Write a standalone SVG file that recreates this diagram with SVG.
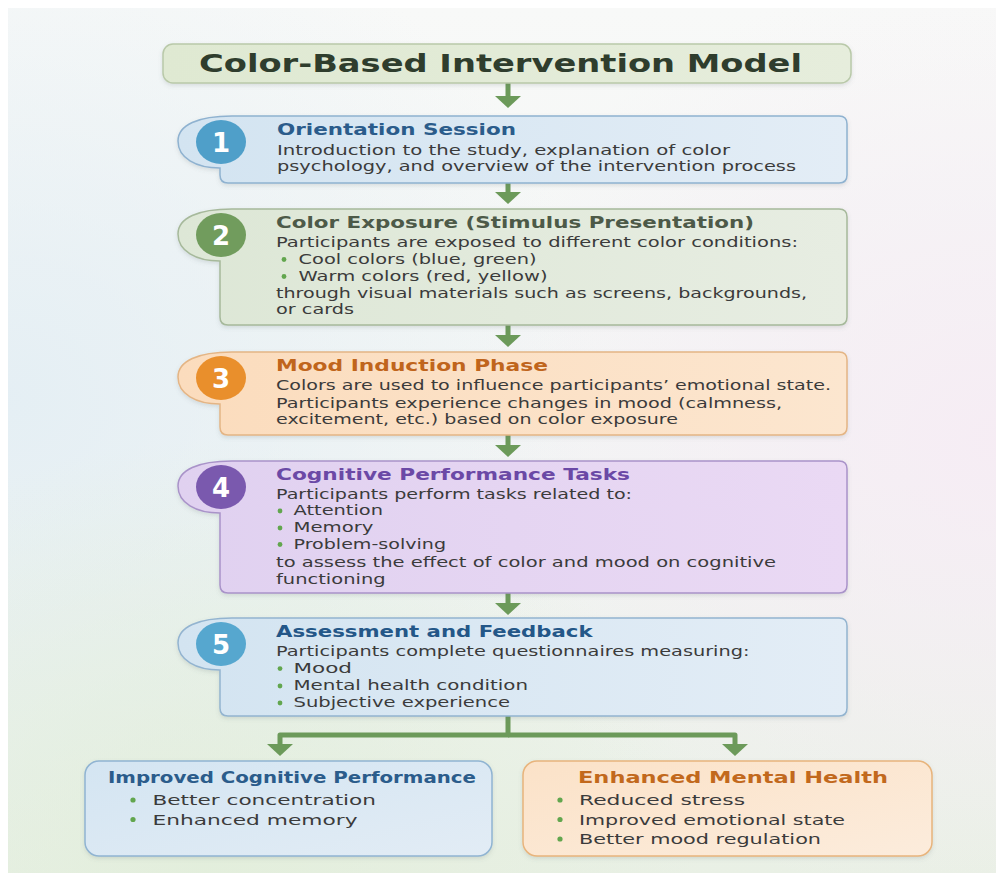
<svg xmlns="http://www.w3.org/2000/svg" width="996" height="873" viewBox="0 0 996 873">
  <defs>
    <linearGradient id="bgBase" x1="0" y1="0" x2="0" y2="1">
      <stop offset="0" stop-color="#f8f9f8"/>
      <stop offset="0.55" stop-color="#f2f5f4"/>
      <stop offset="1" stop-color="#e9f0e5"/>
    </linearGradient>
    <radialGradient id="bgLeft" cx="0" cy="0.45" r="0.6">
      <stop offset="0" stop-color="#e3eef4" stop-opacity="0.9"/>
      <stop offset="1" stop-color="#e3eef4" stop-opacity="0"/>
    </radialGradient>
    <radialGradient id="bgRight" cx="1" cy="0.5" r="0.55">
      <stop offset="0" stop-color="#f6ecf4" stop-opacity="0.95"/>
      <stop offset="1" stop-color="#f6ecf4" stop-opacity="0"/>
    </radialGradient>
    <radialGradient id="bgBottom" cx="0.2" cy="1" r="0.5">
      <stop offset="0" stop-color="#e2eedb" stop-opacity="0.9"/>
      <stop offset="1" stop-color="#e2eedb" stop-opacity="0"/>
    </radialGradient>

    <linearGradient id="gTitle" x1="0" y1="0" x2="1" y2="0">
      <stop offset="0" stop-color="#dfe9d2"/>
      <stop offset="1" stop-color="#e6eddc"/>
    </linearGradient>
    <linearGradient id="gBlue" x1="0" y1="0" x2="1" y2="0">
      <stop offset="0" stop-color="#d3e4f1"/>
      <stop offset="1" stop-color="#e3edf6"/>
    </linearGradient>
    <linearGradient id="gGreen" x1="0" y1="0" x2="1" y2="0">
      <stop offset="0" stop-color="#dde7d6"/>
      <stop offset="1" stop-color="#e7ede2"/>
    </linearGradient>
    <linearGradient id="gOrange" x1="0" y1="0" x2="1" y2="0">
      <stop offset="0" stop-color="#fbdcbd"/>
      <stop offset="1" stop-color="#fce6cf"/>
    </linearGradient>
    <linearGradient id="gPurple" x1="0" y1="0" x2="1" y2="0">
      <stop offset="0" stop-color="#e0d1f0"/>
      <stop offset="1" stop-color="#ead9f4"/>
    </linearGradient>
    <linearGradient id="gBlue2" x1="0" y1="0" x2="1" y2="1">
      <stop offset="0" stop-color="#d4e5f2"/>
      <stop offset="1" stop-color="#e2ecf5"/>
    </linearGradient>
    <linearGradient id="gOrange2" x1="0" y1="0" x2="1" y2="1">
      <stop offset="0" stop-color="#fbe2c8"/>
      <stop offset="1" stop-color="#fcecdc"/>
    </linearGradient>

    <filter id="shadow" x="-5%" y="-10%" width="110%" height="130%">
      <feDropShadow dx="0" dy="2" stdDeviation="2" flood-color="#5a6a70" flood-opacity="0.18"/>
    </filter>

    <marker id="head" viewBox="0 -13 12 26" refX="1" refY="0" markerWidth="12" markerHeight="26" markerUnits="userSpaceOnUse" orient="auto">
      <path d="M0,-13 L12,0 L0,13 Z" fill="#6c9a5a"/>
    </marker>

    <style>
      .title { font-family: "DejaVu Sans", "Liberation Sans", sans-serif; font-weight: bold; }
      .body { font-family: "DejaVu Sans", "Liberation Sans", sans-serif; font-size: 13.5px; fill: #3b3b3b; }
      .big { font-family: "DejaVu Sans", "Liberation Sans", sans-serif; font-size: 14.5px; fill: #3b3b3b; }
      .head { font-size: 15px; }
      .num { font-family: "DejaVu Sans", "Liberation Sans", sans-serif; font-weight: bold; font-size: 26px; fill: #ffffff; text-anchor: middle; }
      .dot { fill: #62a64e; }
      .link { fill: none; stroke: #6c9a5a; stroke-width: 5; stroke-linejoin: round; marker-end: url(#head); }
    </style>
  </defs>

  <!-- page background -->
  <rect x="0" y="0" width="996" height="873" fill="#ffffff"/>
  <rect x="8" y="8" width="988" height="865" fill="url(#bgBase)"/>
  <rect x="8" y="8" width="988" height="865" fill="url(#bgLeft)"/>
  <rect x="8" y="8" width="988" height="865" fill="url(#bgRight)"/>
  <rect x="8" y="8" width="988" height="865" fill="url(#bgBottom)"/>

  <!-- connectors -->
  <g id="connectors">
    <path class="link" d="M508,83 V97"/>
    <path class="link" d="M508,183 V193"/>
    <path class="link" d="M508,325 V336"/>
    <path class="link" d="M508,435 V446"/>
    <path class="link" d="M508,593 V604"/>
    <path class="link" d="M508,716 V735 H280 V745"/>
    <path class="link" d="M508,735 H735 V745"/>
  </g>

  <!-- heading -->
  <g id="title">
    <rect x="163" y="44" width="688" height="39" rx="10" fill="url(#gTitle)" stroke="#b9c9a9" stroke-width="1.5" filter="url(#shadow)"/>
    <text class="title" x="199" y="72" font-size="25" fill="#2f3d2d" textLength="603" lengthAdjust="spacingAndGlyphs">Color-Based Intervention Model</text>
  </g>

  <!-- step 1 -->
  <g id="step1">
    <path d="M232,116 H839 Q847,116 847,124 V175 Q847,183 839,183 H228 Q220,183 220,175 V168 C196,168 178,158 178,141 C178,125 198,116 232,116 Z" fill="url(#gBlue)" stroke="#8fb2d0" stroke-width="1.5" filter="url(#shadow)"/>
    <ellipse cx="221" cy="142" rx="25" ry="22" fill="#4f9fc9"/>
    <text class="num" x="221" y="151.5">1</text>
    <text class="title head" x="277" y="134.5" fill="#2b5c8b" textLength="239" lengthAdjust="spacingAndGlyphs">Orientation Session</text>
    <text class="body" x="277" y="154.5" textLength="453" lengthAdjust="spacingAndGlyphs">Introduction to the study, explanation of color</text>
    <text class="body" x="277" y="171" textLength="519" lengthAdjust="spacingAndGlyphs">psychology, and overview of the intervention process</text>
  </g>

  <!-- step 2 -->
  <g id="step2">
    <path d="M232,209 H839 Q847,209 847,217 V317 Q847,325 839,325 H228 Q220,325 220,317 V261 C196,261 178,251 178,234 C178,218 198,209 232,209 Z" fill="url(#gGreen)" stroke="#a6b99b" stroke-width="1.5" filter="url(#shadow)"/>
    <ellipse cx="221" cy="235" rx="25" ry="22" fill="#719c5d"/>
    <text class="num" x="221" y="244.5">2</text>
    <text class="title head" x="276" y="227.5" fill="#4d5a48" textLength="478" lengthAdjust="spacingAndGlyphs">Color Exposure (Stimulus Presentation)</text>
    <text class="body" x="276" y="246.5" textLength="522" lengthAdjust="spacingAndGlyphs">Participants are exposed to different color conditions:</text>
    <circle class="dot" cx="284" cy="259.5" r="2.4"/>
    <text class="body" x="298.5" y="263.5" textLength="238" lengthAdjust="spacingAndGlyphs">Cool colors (blue, green)</text>
    <circle class="dot" cx="284" cy="276.5" r="2.4"/>
    <text class="body" x="298.5" y="280.5" textLength="249" lengthAdjust="spacingAndGlyphs">Warm colors (red, yellow)</text>
    <text class="body" x="276" y="298" textLength="531" lengthAdjust="spacingAndGlyphs">through visual materials such as screens, backgrounds,</text>
    <text class="body" x="276" y="314" textLength="78" lengthAdjust="spacingAndGlyphs">or cards</text>
  </g>

  <!-- step 3 -->
  <g id="step3">
    <path d="M232,352 H839 Q847,352 847,360 V427 Q847,435 839,435 H228 Q220,435 220,427 V404 C196,404 178,394 178,377 C178,361 198,352 232,352 Z" fill="url(#gOrange)" stroke="#e4b585" stroke-width="1.5" filter="url(#shadow)"/>
    <ellipse cx="221" cy="378" rx="25" ry="22" fill="#e98f2c"/>
    <text class="num" x="221" y="387.5">3</text>
    <text class="title head" x="276" y="370.5" fill="#c0651c" textLength="272" lengthAdjust="spacingAndGlyphs">Mood Induction Phase</text>
    <text class="body" x="276" y="390" textLength="555" lengthAdjust="spacingAndGlyphs">Colors are used to influence participants’ emotional state.</text>
    <text class="body" x="276" y="407.5" textLength="506" lengthAdjust="spacingAndGlyphs">Participants experience changes in mood (calmness,</text>
    <text class="body" x="276" y="424" textLength="402" lengthAdjust="spacingAndGlyphs">excitement, etc.) based on color exposure</text>
  </g>

  <!-- step 4 -->
  <g id="step4">
    <path d="M232,461 H839 Q847,461 847,469 V585 Q847,593 839,593 H228 Q220,593 220,585 V513 C196,513 178,503 178,486 C178,470 198,461 232,461 Z" fill="url(#gPurple)" stroke="#a993c9" stroke-width="1.5" filter="url(#shadow)"/>
    <ellipse cx="221" cy="487" rx="25" ry="22" fill="#7a59ae"/>
    <text class="num" x="221" y="496.5">4</text>
    <text class="title head" x="276" y="479.5" fill="#6b49a6" textLength="354" lengthAdjust="spacingAndGlyphs">Cognitive Performance Tasks</text>
    <text class="body" x="276" y="498.5" textLength="356" lengthAdjust="spacingAndGlyphs">Participants perform tasks related to:</text>
    <circle class="dot" cx="280" cy="511" r="2.4"/>
    <text class="body" x="293.5" y="515" textLength="89.5" lengthAdjust="spacingAndGlyphs">Attention</text>
    <circle class="dot" cx="280" cy="528" r="2.4"/>
    <text class="body" x="293.5" y="532" textLength="80" lengthAdjust="spacingAndGlyphs">Memory</text>
    <circle class="dot" cx="280" cy="544.5" r="2.4"/>
    <text class="body" x="293.5" y="548.5" textLength="152.5" lengthAdjust="spacingAndGlyphs">Problem-solving</text>
    <text class="body" x="276" y="567" textLength="500" lengthAdjust="spacingAndGlyphs">to assess the effect of color and mood on cognitive</text>
    <text class="body" x="276" y="583.5" textLength="109.6" lengthAdjust="spacingAndGlyphs">functioning</text>
  </g>

  <!-- step 5 -->
  <g id="step5">
    <path d="M232,618 H839 Q847,618 847,626 V708 Q847,716 839,716 H228 Q220,716 220,708 V670 C196,670 178,660 178,643 C178,627 198,618 232,618 Z" fill="url(#gBlue)" stroke="#93b4d0" stroke-width="1.5" filter="url(#shadow)"/>
    <ellipse cx="221" cy="644" rx="25" ry="22" fill="#56a7cf"/>
    <text class="num" x="221" y="653.5">5</text>
    <text class="title head" x="276" y="636.5" fill="#245788" textLength="316.6" lengthAdjust="spacingAndGlyphs">Assessment and Feedback</text>
    <text class="body" x="276" y="656" textLength="473.5" lengthAdjust="spacingAndGlyphs">Participants complete questionnaires measuring:</text>
    <circle class="dot" cx="280" cy="668.6" r="2.4"/>
    <text class="body" x="293.5" y="672.6" textLength="58.5" lengthAdjust="spacingAndGlyphs">Mood</text>
    <circle class="dot" cx="280" cy="686" r="2.4"/>
    <text class="body" x="293.5" y="690" textLength="234.5" lengthAdjust="spacingAndGlyphs">Mental health condition</text>
    <circle class="dot" cx="280" cy="703" r="2.4"/>
    <text class="body" x="293.5" y="707" textLength="216.5" lengthAdjust="spacingAndGlyphs">Subjective experience</text>
  </g>

  <!-- outcome: cognition -->
  <g id="outcomeCognitive">
    <rect x="85" y="761" width="407" height="95" rx="14" fill="url(#gBlue2)" stroke="#90b4d2" stroke-width="1.5" filter="url(#shadow)"/>
    <text class="title" x="108" y="783" font-size="16" fill="#2b5c8b" textLength="368" lengthAdjust="spacingAndGlyphs">Improved Cognitive Performance</text>
    <circle class="dot" cx="133" cy="800" r="2.6"/>
    <text class="big" x="152.5" y="805" textLength="223.5" lengthAdjust="spacingAndGlyphs">Better concentration</text>
    <circle class="dot" cx="133" cy="819.5" r="2.6"/>
    <text class="big" x="152.5" y="824.5" textLength="205" lengthAdjust="spacingAndGlyphs">Enhanced memory</text>
  </g>

  <!-- outcome: wellbeing -->
  <g id="outcomeMental">
    <rect x="523" y="761" width="409" height="95" rx="14" fill="url(#gOrange2)" stroke="#e8b47c" stroke-width="1.5" filter="url(#shadow)"/>
    <text class="title" x="578" y="783" font-size="16" fill="#c2691d" textLength="310" lengthAdjust="spacingAndGlyphs">Enhanced Mental Health</text>
    <circle class="dot" cx="560" cy="800" r="2.6"/>
    <text class="big" x="579" y="805" textLength="166" lengthAdjust="spacingAndGlyphs">Reduced stress</text>
    <circle class="dot" cx="560" cy="819.5" r="2.6"/>
    <text class="big" x="579" y="824.5" textLength="266" lengthAdjust="spacingAndGlyphs">Improved emotional state</text>
    <circle class="dot" cx="560" cy="839" r="2.6"/>
    <text class="big" x="579" y="844" textLength="242" lengthAdjust="spacingAndGlyphs">Better mood regulation</text>
  </g>
</svg>
